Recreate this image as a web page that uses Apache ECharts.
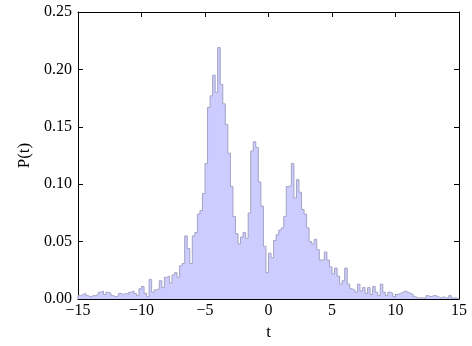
<!DOCTYPE html>
<html>
<head>
<meta charset="utf-8">
<script src="https://cdn.jsdelivr.net/npm/echarts@6/dist/echarts.min.js"></script>
<style>
html,body{margin:0;padding:0;background:#fff;}
#chart{width:472px;height:346px;}
</style>
</head>
<body>
<div id="chart"></div>
<script>
// Histogram bin centres (width 0.2) from -14.9 to 14.9
const binWidth = 0.2;
const binStart = -15;
const binValues = [
  0.003,0.004,0.005,0.003,0.002,0.003,0.003,0.004,0.006,0.007,
  0.004,0.006,0.005,0.003,0.002,0.003,0.005,0.004,0.005,0.004,
  0.006,0.007,0.005,0.003,0.009,0.011,0.005,0.002,0.017,0.006,
  0.008,0.009,0.016,0.010,0.019,0.020,0.014,0.021,0.023,0.019,
  0.029,0.031,0.055,0.044,0.031,0.055,0.058,0.074,0.077,0.092,
  0.118,0.167,0.177,0.195,0.180,0.219,0.187,0.170,0.152,0.127,
  0.098,0.072,0.057,0.048,0.054,0.058,0.053,0.075,0.129,0.137,
  0.132,0.102,0.081,0.046,0.023,
  0.040,0.036,0.051,0.056,0.060,0.062,0.072,0.098,0.099,0.118,
  0.088,0.104,0.093,0.078,0.074,0.062,0.050,0.048,0.052,0.043,
  0.034,0.034,0.041,0.034,0.028,0.022,0.027,0.020,0.013,0.016,
  0.027,0.013,0.009,0.008,0.006,0.013,0.007,0.010,0.005,0.010,
  0.004,0.011,0.006,0.003,0.013,0.006,0.003,0.006,0.005,0.002,
  0.004,0.005,0.006,0.007,0.006,0.005,0.004,0.002,0.001,0.001,
  0.001,0.001,0.003,0.002,0.003,0.003,0.002,0.001,0.002,0.001,
  0.001,0.003,0.001,0.001,0.000
];
const xTicks = [-15,-10,-5,0,5,10,15];
const yTicks = [0.00,0.05,0.10,0.15,0.20,0.25];
const xLabel = 't';
const yLabel = 'P(t)';

// Build step outline points at bin edges
const pts = [[binStart, 0]];
binValues.forEach((v, i) => { pts.push([binStart + i * binWidth, v]); });
pts.push([binStart + binValues.length * binWidth, binValues[binValues.length - 1]]);
pts.push([binStart + binValues.length * binWidth, 0]);

const FONT = '"Liberation Serif", "DejaVu Serif", serif';
const fmtX = v => (v < 0 ? '\u2212' + Math.abs(v) : String(v));
const fmtY = v => v.toFixed(2);

const axisLine = {show: true, onZero: false, lineStyle: {color: '#000', width: 1}};
const tickIn = {show: true, inside: true, length: 5, lineStyle: {color: '#000', width: 1}};

const chart = echarts.init(document.getElementById('chart'), null, {renderer: 'canvas'});
chart.setOption({
  animation: false,
  backgroundColor: '#fff',
  grid: {left: 78, right: 13, top: 12, bottom: 39, containLabel: false},
  xAxis: [
    {type: 'value', position: 'bottom', min: xTicks[0], max: xTicks[xTicks.length-1], interval: 5,
     axisLine: axisLine, axisTick: tickIn, splitLine: {show: false},
     axisLabel: {formatter: fmtX, color: '#000', fontFamily: FONT, fontSize: 16, margin: 4},
     name: xLabel, nameLocation: 'middle', nameGap: 20,
     nameTextStyle: {color: '#000', fontFamily: FONT, fontSize: 17}},
    {type: 'value', position: 'top', min: xTicks[0], max: xTicks[xTicks.length-1], interval: 5,
     axisLine: axisLine, axisTick: tickIn, splitLine: {show: false}, axisLabel: {show: false}}
  ],
  yAxis: [
    {type: 'value', position: 'left', min: yTicks[0], max: yTicks[yTicks.length-1], interval: 0.05,
     axisLine: axisLine, axisTick: tickIn, splitLine: {show: false},
     axisLabel: {formatter: fmtY, color: '#000', fontFamily: FONT, fontSize: 16, margin: 6},
     name: yLabel, nameLocation: 'middle', nameGap: 42,
     nameTextStyle: {color: '#000', fontFamily: FONT, fontSize: 17}},
    {type: 'value', position: 'right', min: yTicks[0], max: yTicks[yTicks.length-1], interval: 0.05,
     axisLine: axisLine, axisTick: tickIn, splitLine: {show: false}, axisLabel: {show: false}}
  ],
  series: [{
    type: 'line', step: 'end', data: pts, showSymbol: false, symbol: 'none',
    xAxisIndex: 0, yAxisIndex: 0,
    lineStyle: {color: '#a3a3c4', width: 1},
    areaStyle: {color: '#ccccff', opacity: 1},
    z: 1
  }]
});
</script>
</body>
</html>
